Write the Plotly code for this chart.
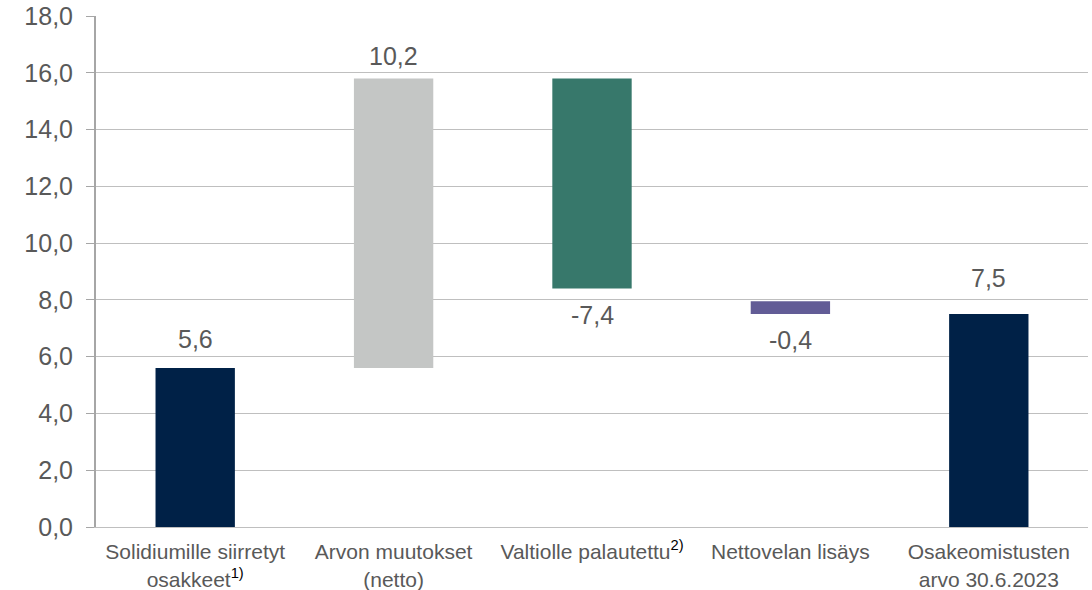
import plotly.graph_objects as go

categories = [
    "Solidiumille siirretyt<br>osakkeet<span style='color:black'><sup>1)</sup></span>",
    "Arvon muutokset<br>(netto)",
    "Valtiolle palautettu<span style='color:black'><sup>2)</sup></span>",
    "Nettovelan lisäys",
    "Osakeomistusten<br>arvo 30.6.2023",
]
bar_bottom = [0.0, 5.6, 8.4, 7.5, 0.0]
bar_top = [5.6, 15.8, 15.8, 7.95, 7.5]
value_labels = ["5,6", "10,2", "-7,4", "-0,4", "7,5"]
label_above = [True, True, False, False, True]
colors = ["#002147", "#c4c6c5", "#37786b", "#625c96", "#002147"]
y_ticks = [0, 2, 4, 6, 8, 10, 12, 14, 16, 18]
y_tick_text = ["0,0", "2,0", "4,0", "6,0", "8,0", "10,0", "12,0", "14,0", "16,0", "18,0"]

# label offsets in pixels (style)
label_shift = [13, 6, -10, -10, 20]

fig = go.Figure()
fig.add_trace(go.Bar(
    x=categories,
    y=[t - b for t, b in zip(bar_top, bar_bottom)],
    base=bar_bottom,
    marker=dict(color=colors, line=dict(width=0)),
    width=0.4,
    hoverinfo="skip",
))

for c, b, t, lab, above, sh in zip(categories, bar_bottom, bar_top, value_labels, label_above, label_shift):
    fig.add_annotation(
        x=c, y=t if above else b,
        text=lab, showarrow=False,
        yanchor="bottom" if above else "top",
        yshift=sh,
        font=dict(family="Liberation Sans, Arial", size=25, color="#595959"),
    )

fig.update_layout(
    width=1092, height=590,
    margin=dict(l=96, r=4, t=16, b=63),
    plot_bgcolor="white", paper_bgcolor="white",
    showlegend=False,
    font=dict(family="Liberation Sans, Arial", color="#595959"),
)
fig.update_yaxes(
    range=[0, 18], tickvals=y_ticks, ticktext=y_tick_text,
    showgrid=True, gridcolor="#bfbfbf", gridwidth=1,
    showline=True, linecolor="#a6a6a6", linewidth=2,
    ticks="outside", ticklen=8, tickcolor="#a6a6a6", tickwidth=1,
    ticklabelstandoff=8, ticklabeloverflow="allow",
    tickfont=dict(family="Liberation Sans, Arial", size=25, color="#595959"),
    zeroline=False, fixedrange=True, automargin=False,
)
fig.update_xaxes(
    showline=True, linecolor="#bfbfbf", linewidth=1,
    ticks="", showgrid=False,
    ticklabelstandoff=6, ticklabeloverflow="allow",
    tickfont=dict(family="Liberation Sans, Arial", size=21, color="#595959"),
    fixedrange=True, automargin=False,
)

fig.write_html(
    "out.html",
    config={"displayModeBar": False},
    post_script="document.body.style.margin='0px';document.body.style.overflow='hidden';",
)
